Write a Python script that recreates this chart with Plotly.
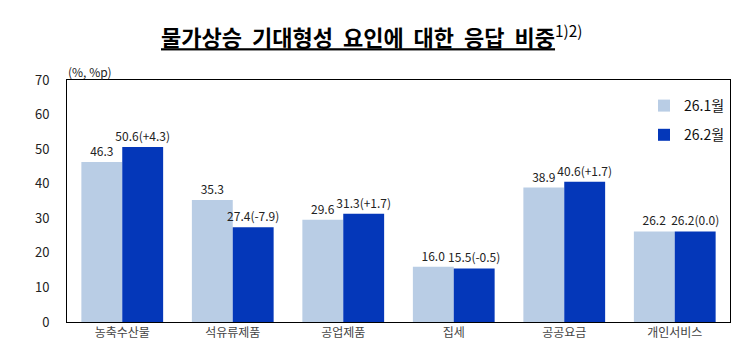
import plotly.graph_objects as go

categories = ["농축수산물", "석유류제품", "공업제품", "집세", "공공요금", "개인서비스"]
jan = [46.3, 35.3, 29.6, 16.0, 38.9, 26.2]
feb = [50.6, 27.4, 31.3, 15.5, 40.6, 26.2]
feb_diff = ["+4.3", "-7.9", "+1.7", "-0.5", "+1.7", "0.0"]
series_names = ["26.1월", "26.2월"]
y_ticks = [0, 10, 20, 30, 40, 50, 60, 70]

FONT = "Noto Sans CJK KR"

jan_text = [f"{v:.1f}" for v in jan]
feb_text = [f"{v:.1f}({d})" for v, d in zip(feb, feb_diff)]

W, H = 747, 353
ML, MR, MT, MB = 67, 17, 80, 31
pw = W - ML - MR
ph = H - MT - MB


def px_to_paper_x(px):
    return (px - ML) / pw


def px_to_paper_y(py):
    return (H - MB - py) / ph


fig = go.Figure()
fig.add_trace(go.Bar(
    x=categories, y=jan, name=series_names[0], legendgroup="a",
    marker=dict(color="#B9CDE5", line=dict(width=0)),
    text=jan_text, textposition="outside", cliponaxis=False,
    constraintext="none",
    textfont=dict(family=FONT, size=12, color="#222222"),
))
fig.add_trace(go.Bar(
    x=categories, y=feb, name=series_names[1], legendgroup="b",
    marker=dict(color="#0437B9", line=dict(width=0)),
    text=feb_text, textposition="outside", cliponaxis=False,
    constraintext="none",
    textfont=dict(family=FONT, size=12, color="#222222"),
))

title_txt = "물가상승\u00a0 기대형성\u00a0 요인에\u00a0 대한\u00a0 응답\u00a0 비중"

fig.update_layout(
    width=W, height=H,
    margin=dict(l=ML, r=MR, t=MT, b=MB),
    paper_bgcolor="white", plot_bgcolor="white",
    barmode="group", bargap=0.26, bargroupgap=0,
    font=dict(family=FONT, size=12, color="#222222"),
    showlegend=True,
    legend=dict(
        x=px_to_paper_x(644), y=px_to_paper_y(90), xanchor="left", yanchor="top",
        bgcolor="rgba(0,0,0,0)", borderwidth=0,
        font=dict(family=FONT, size=14, color="#111111"),
        itemwidth=30, tracegroupgap=8, traceorder="grouped",
    ),
    xaxis=dict(
        showline=True, linecolor="black", linewidth=1, mirror=True,
        ticks="", tickfont=dict(family=FONT, size=12, color="#444444"),
        showgrid=False, zeroline=False,
    ),
    yaxis=dict(
        range=[0, 70], tickvals=y_ticks,
        showline=True, linecolor="black", linewidth=1, mirror=True,
        ticks="", ticklabelstandoff=14,
        tickfont=dict(family=FONT, size=13, color="#222222"),
        showgrid=False, zeroline=False,
    ),
    annotations=[
        dict(
            text=f"<b><u>{title_txt}</u></b><sup>1)2)</sup>",
            x=px_to_paper_x(372), xref="paper", y=px_to_paper_y(35), yref="paper",
            yanchor="middle", showarrow=False,
            font=dict(family=FONT, size=22, color="black"),
        ),
        dict(
            text="(%, %p)", x=px_to_paper_x(66), xref="paper",
            y=px_to_paper_y(71), yref="paper",
            xanchor="left", yanchor="middle", showarrow=False,
            font=dict(family=FONT, size=12, color="#222222"),
        ),
    ],
)

fig.write_html("out.html")
